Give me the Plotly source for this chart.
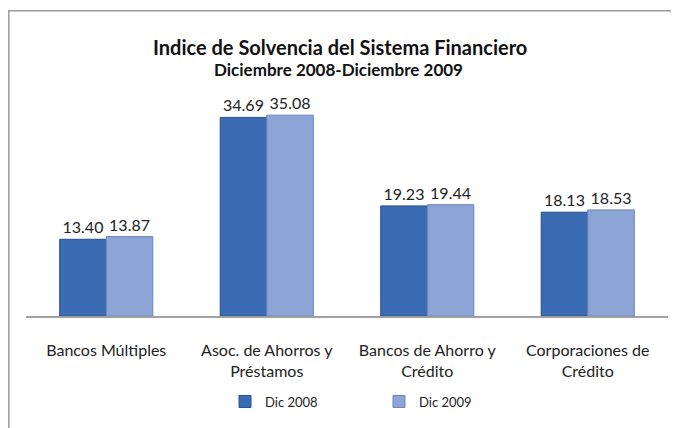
import plotly.graph_objects as go

categories = ["Bancos Múltiples", "Asoc. de Ahorros y<br>Préstamos",
              "Bancos de Ahorro y<br>Crédito", "Corporaciones de<br>Crédito"]
dic2008 = [13.40, 34.69, 19.23, 18.13]
dic2009 = [13.87, 35.08, 19.44, 18.53]

FONT = "Lato, Carlito, Calibri, sans-serif"

# The page body has an 8px margin, so the figure is laid out in page pixels minus 8.
OFF = 8
W, H = 679 - OFF, 428 - OFF
ml, mr = 26 - OFF, W - (668 - OFF)
mt, mb = 87 - OFF, H - (320 - OFF)
pw, ph = W - ml - mr, H - mt - mb


def px_x(px):
    return (px - OFF - ml) / pw


def px_y(py):
    return (H - mb - (py - OFF)) / ph


fig = go.Figure()
fig.add_trace(go.Bar(
    x=categories, y=dic2008, name="Dic 2008",
    marker=dict(color="#3a6bb3", line=dict(color="#25508f", width=1)),
    text=[f"{v:.2f}" for v in dic2008], textposition="outside",
    textfont=dict(size=16, color="#222222", family=FONT), cliponaxis=False,
))
fig.add_trace(go.Bar(
    x=categories, y=dic2009, name="Dic 2009",
    marker=dict(color="#8ca5d6", line=dict(color="#6a84b8", width=1)),
    text=[f"{v:.2f}" for v in dic2009], textposition="outside",
    textfont=dict(size=16, color="#222222", family=FONT), cliponaxis=False,
))

fig.update_layout(
    width=W, height=H,
    margin=dict(l=ml, r=mr, t=mt, b=mb),
    paper_bgcolor="white", plot_bgcolor="white",
    barmode="group", bargap=0.42, bargroupgap=0.0,
    font=dict(family=FONT, size=16, color="#222222"),
    showlegend=True,
    legend=dict(
        orientation="h", x=px_x(379), xanchor="center", y=px_y(407), yanchor="middle",
        font=dict(size=13, family=FONT), entrywidth=109, itemwidth=30,
        traceorder="normal",
    ),
    xaxis=dict(
        showline=True, linecolor="#a0a0a0", linewidth=1.5, ticks="",
        tickfont=dict(size=16, family=FONT, color="#222222"),
        ticklabelstandoff=19,
    ),
    yaxis=dict(range=[0, 40], visible=False, showgrid=False),
    annotations=[
        dict(text="<b>Indice de Solvencia del Sistema Financiero</b>",
             xref="paper", yref="paper", x=px_x(340), y=px_y(46),
             xanchor="center", yanchor="middle", showarrow=False,
             font=dict(size=20, family=FONT, color="#111111")),
        dict(text="<b>Diciembre 2008-Diciembre 2009</b>",
             xref="paper", yref="paper", x=px_x(338), y=px_y(69),
             xanchor="center", yanchor="middle", showarrow=False,
             font=dict(size=17, family=FONT, color="#111111")),
    ],
    shapes=[dict(
        type="rect", xref="paper", yref="paper",
        x0=px_x(OFF + 0.8), x1=px_x(700),
        y0=px_y(450), y1=px_y(9.5),
        line=dict(color="#9a9a9a", width=1.5), fillcolor="rgba(0,0,0,0)",
        layer="below",
    )],
)

fig.write_html("out.html")
